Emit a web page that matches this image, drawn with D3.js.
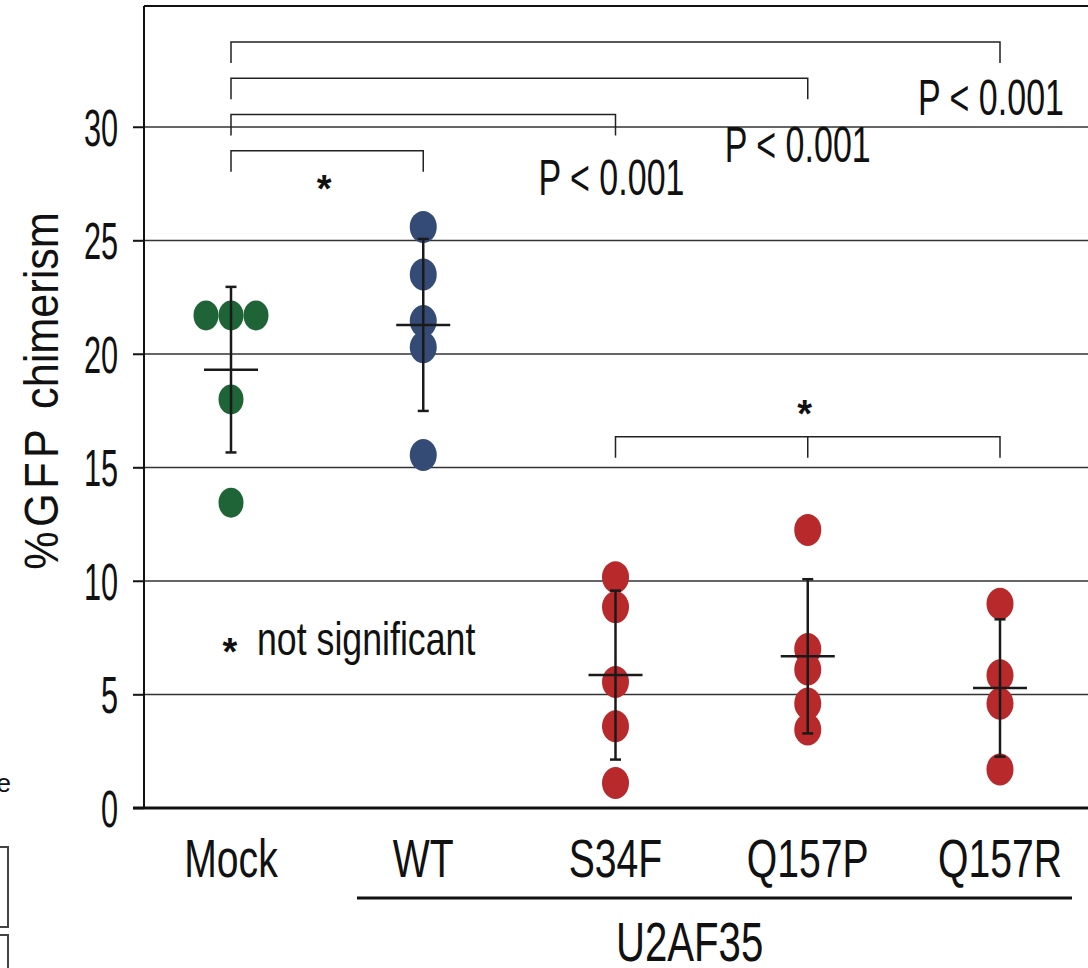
<!DOCTYPE html>
<html>
<head>
<meta charset="utf-8">
<script src="https://cdn.jsdelivr.net/npm/d3@7"></script>
<style>
  body { margin: 0; background: #fff; }
  svg { display: block; }
  text { font-family: "Liberation Sans", Arial, sans-serif; fill: #111; }
  .star { font-weight: bold; }
</style>
</head>
<body>
<svg width="1088" height="968"></svg>
<script>
// groups along the x axis
var categories = ["Mock", "WT", "S34F", "Q157P", "Q157R"];
var colors = ["#1e6437", "#344b76", "#b8292b", "#b8292b", "#b8292b"];

// % GFP chimerism per mouse
var mockValues  = [21.7, 21.7, 21.7, 18.0, 13.45];
var wtValues    = [25.6, 23.5, 21.45, 20.3, 15.55];
var s34fValues  = [10.17, 8.85, 5.55, 3.6, 1.1];
var q157pValues = [12.25, 7.0, 6.1, 4.6, 3.46];
var q157rValues = [9.0, 5.85, 4.6, 1.7];
var seriesValues = [mockValues, wtValues, s34fValues, q157pValues, q157rValues];

var yTicks = [0, 5, 10, 15, 20, 25, 30];

// comparison brackets (level in % units)
var brackets = [
  {from: "Mock", to: "Q157R", level: 33.75},
  {from: "Mock", to: "Q157P", level: 32.15},
  {from: "Mock", to: "S34F",  level: 30.55},
  {from: "Mock", to: "WT",    level: 28.95},
  {from: "S34F", to: "Q157R", level: 16.35, mid: "Q157P"}
];
var pLabels = [
  {text: "P < 0.001", at: "S34F",  value: 27.0,  dx: -4},
  {text: "P < 0.001", at: "Q157P", value: 28.45, dx: -10},
  {text: "P < 0.001", at: "Q157R", value: 30.55, dx: -9}
];
var starLabels = [
  {between: ["Mock", "WT"],    value: 26.7},
  {between: ["S34F", "Q157R"], value: 16.8}
];

var svg = d3.select("svg");

var x = d3.scalePoint().domain(categories).range([231, 1000]);
var y = d3.scaleLinear().domain([0, 30]).range([808, 127]);
var axisX = 144, topY = 6, rightX = 1088;

function label(g, px, py, txt, size, sx, anchor) {
  return g.append("text")
    .attr("transform", "translate(" + px + "," + py + ") scale(" + sx + ",1)")
    .attr("text-anchor", anchor || "middle")
    .style("font-size", size + "px")
    .text(txt);
}

// gridlines
svg.append("g").selectAll("line")
  .data(yTicks.filter(function(d) { return d > 0; }))
  .enter().append("line")
  .attr("x1", 133).attr("x2", rightX)
  .attr("y1", function(d) { return y(d); })
  .attr("y2", function(d) { return y(d); })
  .attr("stroke", "#333").attr("stroke-width", 1.5);

// frame: top line, left axis, bottom axis
svg.append("line").attr("x1", axisX).attr("x2", rightX).attr("y1", topY).attr("y2", topY)
  .attr("stroke", "#111").attr("stroke-width", 2);
svg.append("line").attr("x1", axisX).attr("x2", axisX).attr("y1", topY).attr("y2", y(0))
  .attr("stroke", "#111").attr("stroke-width", 2);
svg.append("line").attr("x1", 133).attr("x2", rightX).attr("y1", y(0)).attr("y2", y(0))
  .attr("stroke", "#111").attr("stroke-width", 3);

// y axis ticks + labels
var yAxis = svg.append("g")
  .attr("transform", "translate(" + axisX + ",0)")
  .call(d3.axisLeft(y).tickValues(yTicks).tickSize(11).tickFormat(d3.format("d")));
yAxis.select(".domain").remove();
yAxis.selectAll(".tick line").attr("stroke", "#111").attr("stroke-width", 1.5);
yAxis.selectAll(".tick text")
  .attr("x", null).attr("dy", null)
  .attr("transform", "translate(-26,18) scale(0.59,1)")
  .attr("fill", "#111")
  .style("font-size", "52px")
  .style("font-family", "'Liberation Sans', Arial, sans-serif");

// y axis title
var yt = svg.append("text")
  .attr("transform", "translate(58,391) rotate(-90) scale(0.9,1)")
  .attr("text-anchor", "middle")
  .style("font-size", "48px");
yt.append("tspan").style("letter-spacing", "5px").text("%GFP ");
yt.append("tspan").text("chimerism");

// x labels
var xl = svg.append("g");
categories.forEach(function(c) {
  label(xl, x(c), 877, c, 54, 0.725);
});
svg.append("line").attr("x1", 357).attr("x2", 1072).attr("y1", 898).attr("y2", 898)
  .attr("stroke", "#111").attr("stroke-width", 3);
label(svg, (x("WT") + x("Q157R")) / 2 - 22, 961, "U2AF35", 55, 0.73);

// brackets
var drop = 21;
var bg = svg.append("g").attr("fill", "none").attr("stroke", "#222").attr("stroke-width", 1.5);
brackets.forEach(function(b) {
  var x1 = x(b.from), x2 = x(b.to), by = y(b.level);
  bg.append("path").attr("d", "M" + x1 + "," + (by + drop) + "V" + by + "H" + x2 + "V" + (by + drop));
  if (b.mid) bg.append("line").attr("x1", x(b.mid)).attr("x2", x(b.mid))
    .attr("y1", by).attr("y2", by + drop);
});
pLabels.forEach(function(p) {
  label(svg, x(p.at) + p.dx, y(p.value), p.text, 50, 0.68);
});
starLabels.forEach(function(s) {
  label(svg, (x(s.between[0]) + x(s.between[1])) / 2 - 3, y(s.value), "*", 38, 1)
    .attr("class", "star");
});

// legend note
label(svg, 230, y(6.3), "*", 38, 1).attr("class", "star");
label(svg, 257, y(6.75), "not significant", 47, 0.76, "start");

// points, means, SD bars
var pg = svg.append("g");
seriesValues.forEach(function(vals, i) {
  var c = categories[i], cx = x(c);
  var groups = d3.groups(vals, function(d) { return d; });
  var rx = i === 0 ? 12.5 : 13.5, ry = i === 0 ? 15 : 16;
  groups.forEach(function(gp) {
    var n = gp[1].length;
    gp[1].forEach(function(v, k) {
      pg.append("ellipse")
        .attr("cx", cx + (k - (n - 1) / 2) * 25)
        .attr("cy", y(v))
        .attr("rx", rx).attr("ry", ry)
        .attr("fill", colors[i]);
    });
  });
  var m = d3.mean(vals), sd = d3.deviation(vals);
  var eg = svg.append("g").attr("stroke", "#1a1a1a").attr("stroke-width", 2.5);
  eg.append("line").attr("x1", cx).attr("x2", cx).attr("y1", y(m + sd)).attr("y2", y(m - sd));
  eg.append("line").attr("x1", cx - 5.5).attr("x2", cx + 5.5).attr("y1", y(m + sd)).attr("y2", y(m + sd));
  eg.append("line").attr("x1", cx - 5.5).attr("x2", cx + 5.5).attr("y1", y(m - sd)).attr("y2", y(m - sd));
  eg.append("line").attr("x1", cx - 27).attr("x2", cx + 27).attr("y1", y(m)).attr("y2", y(m));
});

// fragments of the neighbouring panel at the left edge
svg.append("text").attr("x", 11).attr("y", 792).attr("text-anchor", "end")
  .style("font-size", "26px").attr("fill", "#444").text("e");
svg.append("rect").attr("x", -10).attr("y", 847).attr("width", 18).attr("height", 80)
  .attr("fill", "none").attr("stroke", "#444").attr("stroke-width", 2);
svg.append("rect").attr("x", -10).attr("y", 935).attr("width", 18).attr("height", 60)
  .attr("fill", "none").attr("stroke", "#444").attr("stroke-width", 2);
</script>
</body>
</html>
